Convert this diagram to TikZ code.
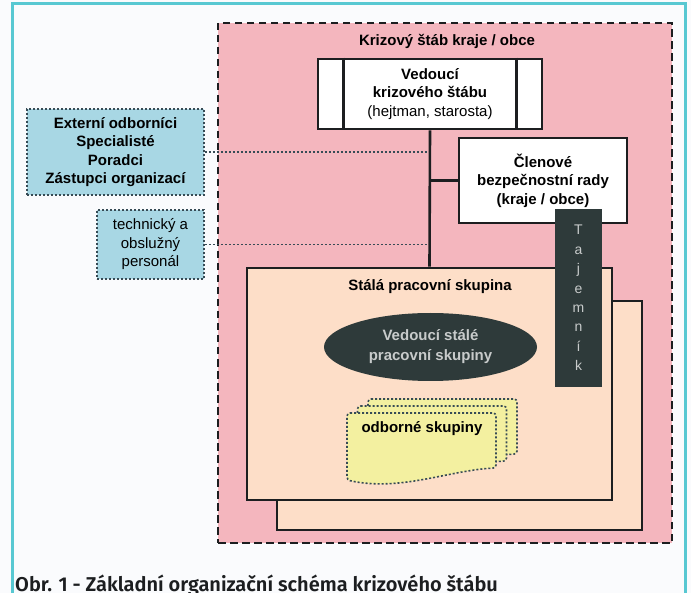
\documentclass[tikz,border=0pt]{standalone}
\usepackage{fontspec}
\setmainfont{Liberation Sans}
\newfontfamily\captionfont{Fira Sans SemiBold}
\usetikzlibrary{shapes.geometric}

\definecolor{pagebg}{RGB}{250,251,253}
\definecolor{framecyan}{RGB}{88,200,210}
\definecolor{stabpink}{RGB}{244,182,190}
\definecolor{skupinapeach}{RGB}{253,222,200}
\definecolor{extblue}{RGB}{168,215,228}
\definecolor{oddilyellow}{RGB}{243,240,160}
\definecolor{darkslate}{RGB}{46,58,58}
\definecolor{lightgrey}{RGB}{200,203,203}
\definecolor{linecol}{RGB}{28,30,32}
\definecolor{dotcol}{RGB}{55,75,85}

\newcommand\txt{\fontsize{15}{18.5}\selectfont}

\tikzset{
  stabbox/.style={draw=linecol, fill=stabpink, line width=2.6pt, dash pattern=on 7.5pt off 4.5pt},
  whitebox/.style={draw=linecol, fill=white, line width=2.8pt, font=\bfseries\txt},
  skupinabox/.style={draw=linecol, fill=skupinapeach, line width=2.8pt},
  extbox/.style={draw=dotcol, fill=extblue, line width=1.6pt, dash pattern=on 2pt off 2pt},
  oddilline/.style={draw=dotcol, fill=oddilyellow, line width=1.6pt, dash pattern=on 2pt off 2pt, rounded corners=3pt},
  dotline/.style={draw=dotcol, line width=1.6pt, dash pattern=on 2pt off 2pt},
  conline/.style={draw=linecol, line width=2.6pt},
  darkbox/.style={fill=darkslate, text=lightgrey},
}

\begin{document}
\begin{tikzpicture}[x=1pt, y=-1pt,
  every node/.style={inner sep=0pt, align=center, font=\txt}]
\useasboundingbox (0,0) rectangle (691,593);
\fill[pagebg] (0,0) rectangle (691,593);
\draw[framecyan, line width=3pt] (12,600) -- (12,4) -- (685,4) -- (685,600);

% krizovy stab
\node[stabbox, minimum width=454, minimum height=520] (stab) at (445,283) {};
\node[font=\bfseries\txt] (stabtitle) at (447,41) {Krizový štáb kraje / obce};

% externi a personal, napojeni teckovane
\node[extbox, minimum width=177, minimum height=86, font=\bfseries\txt] (ext) at (115.5,152)
  {Externí odborníci\\Specialisté\\Poradci\\Zástupci organizací};
\node[extbox, minimum width=107, minimum height=69] (tech) at (150.5,244.5)
  {technický a\\obslužný\\personál};

% vedouci a clenove
\node[whitebox, minimum width=224, minimum height=70] (ved) at (430,94)
  {Vedoucí\\krizového štábu\\{\mdseries (hejtman, starosta)}};
\draw[conline] ([xshift=27pt]ved.north west) -- ([xshift=27pt]ved.south west);
\draw[conline] ([xshift=-27pt]ved.north east) -- ([xshift=-27pt]ved.south east);
\node[whitebox, minimum width=168, minimum height=85] (clen) at (543,180.5)
  {Členové\\bezpečnostní rady\\(kraje / obce)};

\draw[dotline] (ext.east) -- (ext.east -| ved.south);
\draw[dotline] (tech.east) -- (tech.east -| ved.south);

% stala pracovni skupina
\node[skupinabox, minimum width=365, minimum height=229] (stalaback) at (459.5,415.5) {};
\node[skupinabox, minimum width=365, minimum height=232] (stala) at (429.5,384) {};
\node[font=\bfseries\txt] (stalatitle) at (430,287) {Stálá pracovní skupina};

\draw[conline] (ved.south) -- (stala.north);
\draw[conline] (clen.west) -- (clen.west -| ved.south);

\node[darkbox, minimum width=47, minimum height=178, font=\fontsize{14}{19.4}\selectfont] (taj) at (578.5,298)
  {T\\a\\j\\e\\m\\n\\í\\k};

\node[darkbox, ellipse, minimum width=213, minimum height=68, font=\bfseries\fontsize{15}{20}\selectfont] (vedsk) at (430.5,347)
  {Vedoucí stálé\\pracovní skupiny};

% odborne skupiny
\foreach \s in {2,1,0}
  \draw[oddilline, shift={(10.5*\s,-7*\s)}]
    (347,413) -- (496,413) -- (496,468) .. controls (450,470) and (400,492) .. (347,480) -- cycle;
\node[font=\bfseries\txt] (oddily) at (422,429) {odborné skupiny};

\node[anchor=base west, text=linecol, font=\captionfont\fontsize{20}{22}\selectfont] (caption) at (15,591)
  {Obr. 1 - Základní organizační schéma krizového štábu};
\end{tikzpicture}
\end{document}
